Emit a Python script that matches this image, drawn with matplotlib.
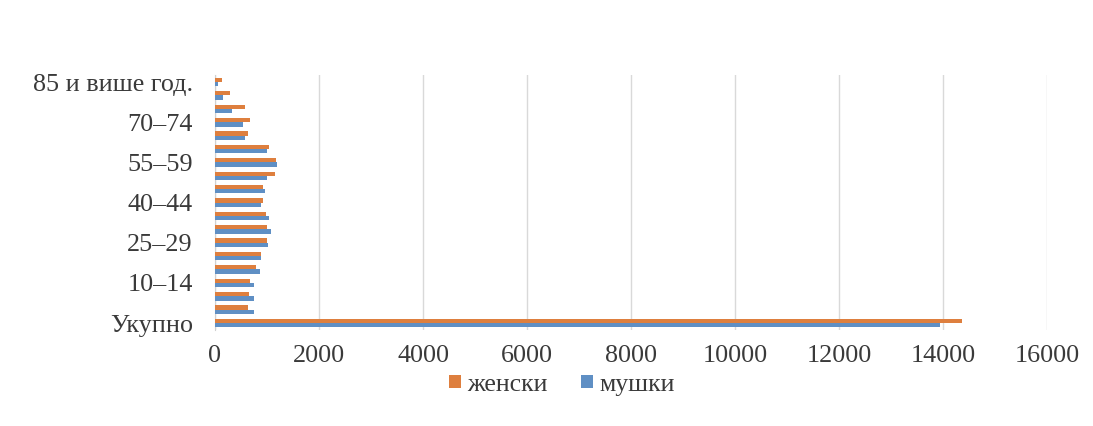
import matplotlib

matplotlib.use("Agg")
import matplotlib.pyplot as plt
import numpy as np
from matplotlib.patches import Patch

plt.rcParams["font.family"] = ["Liberation Serif", "DejaVu Serif"]

# categories bottom -> top
age_groups = [
    "Укупно", "0–4", "5–9", "10–14", "15–19", "20–24", "25–29", "30–34",
    "35–39", "40–44", "45–49", "50–54", "55–59", "60–64", "65–69",
    "70–74", "75–79", "80–84", "85 и више год.",
]
female = [14370, 640, 660, 680, 790, 890, 1000, 1000, 980, 920, 920,
          1150, 1180, 1040, 640, 675, 575, 290, 130]
male = [13940, 750, 750, 750, 860, 890, 1010, 1070, 1030, 890, 960,
        1000, 1200, 1000, 580, 540, 330, 150, 60]

series_labels = ["женски", "мушки"]
colors = ["#DE7F3E", "#5F8FC4"]

fig = plt.figure(figsize=(10.93, 4.26), dpi=100)
ax = fig.add_axes([0.1967, 0.226, 0.7613, 0.597])

y = np.arange(len(age_groups))
bar_h = 0.32
ax.barh(y + bar_h / 2, female, height=bar_h, color=colors[0], zorder=3)
ax.barh(y - bar_h / 2, male, height=bar_h, color=colors[1], zorder=3)

ax.set_xlim(0, 16000)
ax.set_ylim(-0.5, len(age_groups) - 0.5)
ax.set_xticks(np.arange(0, 16001, 2000))
ax.set_yticks(y[::3])
ax.set_yticklabels(age_groups[::3])

ax.grid(axis="x", color="#d9d9d9", linewidth=1.0, zorder=0)
for side in ["top", "right", "bottom"]:
    ax.spines[side].set_visible(False)
ax.spines["left"].set_color("#d0d0d0")
ax.tick_params(axis="both", length=0, labelsize=18.8, colors="#3a3a3a")
ax.tick_params(axis="y", pad=16)
ax.tick_params(axis="x", pad=11)

handles = [Patch(facecolor=c, edgecolor="none") for c in colors]
fig.legend(handles, series_labels, loc="center", bbox_to_anchor=(0.514, 0.097),
           ncol=2, frameon=False, fontsize=18.5, handlelength=0.45,
           handleheight=0.45, handletextpad=0.25, columnspacing=1.3,
           labelcolor="#3a3a3a")

fig.savefig("out.png", dpi=100)
